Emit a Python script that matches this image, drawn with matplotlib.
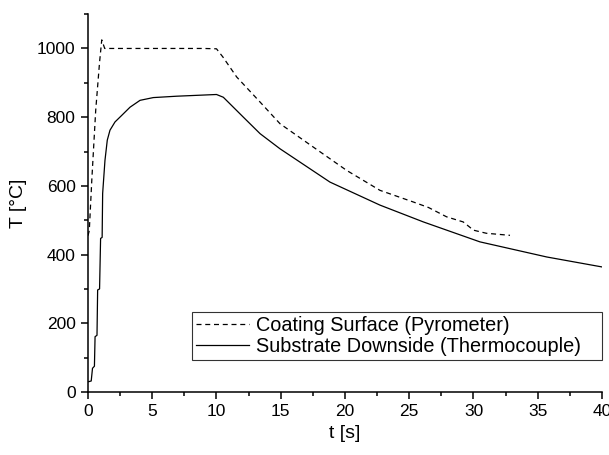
import matplotlib
matplotlib.use("Agg")
import matplotlib.pyplot as plt
from matplotlib.ticker import MultipleLocator

plt.rcParams['font.family'] = ['Liberation Sans', 'DejaVu Sans']

# Coating surface (pyrometer), dashed
t_coat = [0.0, 0.1, 0.3, 0.6, 0.9, 1.07, 1.3, 3.0, 6.0, 9.0, 10.0, 10.5, 11.57,
          13.39, 14.94, 17.53, 20.13, 22.72, 25.32, 26.5, 27.9, 29.2, 30.0,
          31.0, 32.84]
T_coat = [455, 470, 620, 820, 960, 1025, 1000, 1000, 1000, 1000, 999, 975, 917,
          844, 781, 713, 645, 587, 553, 537, 510, 495, 471, 462, 456]

# Substrate downside (thermocouple), solid
t_sub = [0.05, 0.25, 0.35, 0.5, 0.55, 0.7, 0.75, 0.9, 0.98, 1.1, 1.14, 1.32, 1.5,
         1.71, 2.1, 2.62, 3.27, 4.05, 5.08, 6.9, 10.0, 10.53, 12.09, 13.39,
         14.94, 18.83, 22.72, 26.1, 30.5, 35.7, 40.0]
T_sub = [30, 32, 69, 75, 161, 165, 297, 300, 447, 450, 578, 674, 733,
         762, 786, 805, 829, 849, 857, 861, 866, 858, 800, 752,
         708, 611, 544, 495, 437, 393, 364]

fig = plt.figure(figsize=(6.09, 4.55), dpi=100)
ax = fig.add_axes([0.1445, 0.1385, 0.844, 0.8305])

ax.plot(t_coat, T_coat, color='black', linestyle=(0, (4, 3)), linewidth=0.9,
        label='Coating Surface (Pyrometer)')
ax.plot(t_sub, T_sub, color='black', linestyle='-', linewidth=0.9,
        label='Substrate Downside (Thermocouple)')

ax.set_xlim(0, 40)
ax.set_ylim(0, 1100)
ax.xaxis.set_major_locator(MultipleLocator(5))
ax.xaxis.set_minor_locator(MultipleLocator(2.5))
ax.yaxis.set_major_locator(MultipleLocator(200))
ax.yaxis.set_minor_locator(MultipleLocator(100))

ax.spines['top'].set_visible(False)
ax.spines['right'].set_visible(False)
for s in ['left', 'bottom']:
    ax.spines[s].set_linewidth(1.1)
ax.tick_params(which='major', direction='out', length=5, width=1.1,
               labelsize=12.5, pad=4)
ax.tick_params(which='minor', direction='out', length=2.8, width=1.1)

ax.set_xlabel('t [s]', fontsize=14, labelpad=4)
ax.set_ylabel('T [°C]', fontsize=14, labelpad=7)

leg = ax.legend(loc='lower left', bbox_to_anchor=(0.202, 0.085, 0.798, 0.1),
                mode='expand', fontsize=14.3,
                frameon=True, fancybox=False, handlelength=2.7,
                borderpad=0.2, labelspacing=0.1, handletextpad=0.35,
                borderaxespad=0.0)
leg.get_frame().set_edgecolor('black')
leg.get_frame().set_linewidth(0.8)

fig.savefig('out.png', dpi=100)
